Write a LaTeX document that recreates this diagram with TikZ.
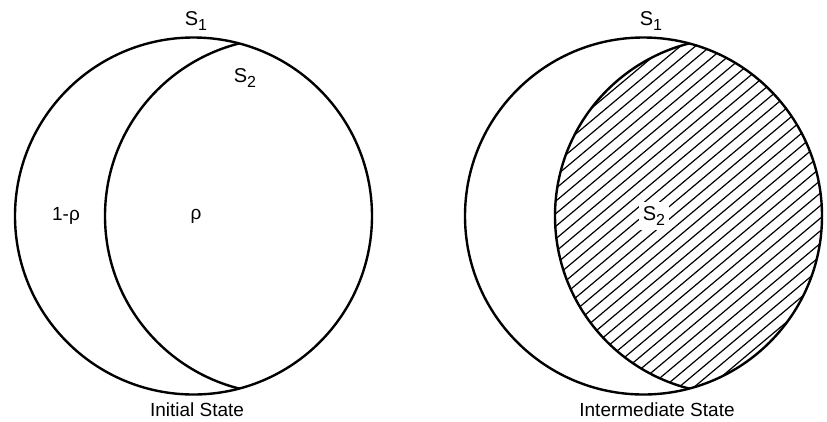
\documentclass[tikz,border=0pt]{standalone}
\usepackage{fontspec}
\setmainfont{Liberation Sans}
\usetikzlibrary{calc}
\begin{document}
\begin{tikzpicture}[x=1pt,y=-1pt,
  outline/.style={line width=2.4pt},
  hatchline/.style={line width=1.2pt},
  lbl/.style={font=\fontsize{19}{19}\selectfont, inner sep=1pt},
  sublbl/.style={font=\fontsize{20}{20}\selectfont, inner sep=1pt}]
\newcommand{\sub}[1]{S\raisebox{-0.55ex}{\fontsize{16}{16}\selectfont #1}}
\useasboundingbox (0,0) rectangle (827,421);
% ---- left diagram: Initial State ----
\coordinate (c1L) at (193.5,216);
\coordinate (c2L) at (283,216);
\begin{scope}
  \clip (c1L) circle (178.5);
  \draw[outline] (c2L) circle (178);
\end{scope}
\draw[outline] (c1L) circle (178.5);
\node[sublbl] (s1L) at (196,21) {\sub{1}};
\node[sublbl] (s2L) at (245,78) {\sub{2}};
\node[lbl] (qL) at (66,216) {1-ρ};
\node[lbl] (pL) at (196,216) {ρ};
\node[lbl] (capL) at (197,410) {Initial State};
% ---- right diagram: Intermediate State ----
\coordinate (c1R) at (643.5,216);
\coordinate (c2R) at (733,216);
\begin{scope}
  \clip (c1R) circle (178.5);
  \clip (c2R) circle (178);
  \foreach \k in {-30,...,30} {
    \draw[hatchline] ($(c2R)+(\k*15-320,268.5)$) -- ($(c2R)+(\k*15+320,-268.5)$);
  }
\end{scope}
\begin{scope}
  \clip (c1R) circle (178.5);
  \draw[outline] (c2R) circle (178);
\end{scope}
\draw[outline] (c1R) circle (178.5);
\node[sublbl] (s1R) at (651,21) {\sub{1}};
\node[sublbl, fill=white, inner sep=4pt] (s2R) at (654,216) {\sub{2}};
\node[lbl] (capR) at (657,410) {Intermediate State};
\end{tikzpicture}
\end{document}
